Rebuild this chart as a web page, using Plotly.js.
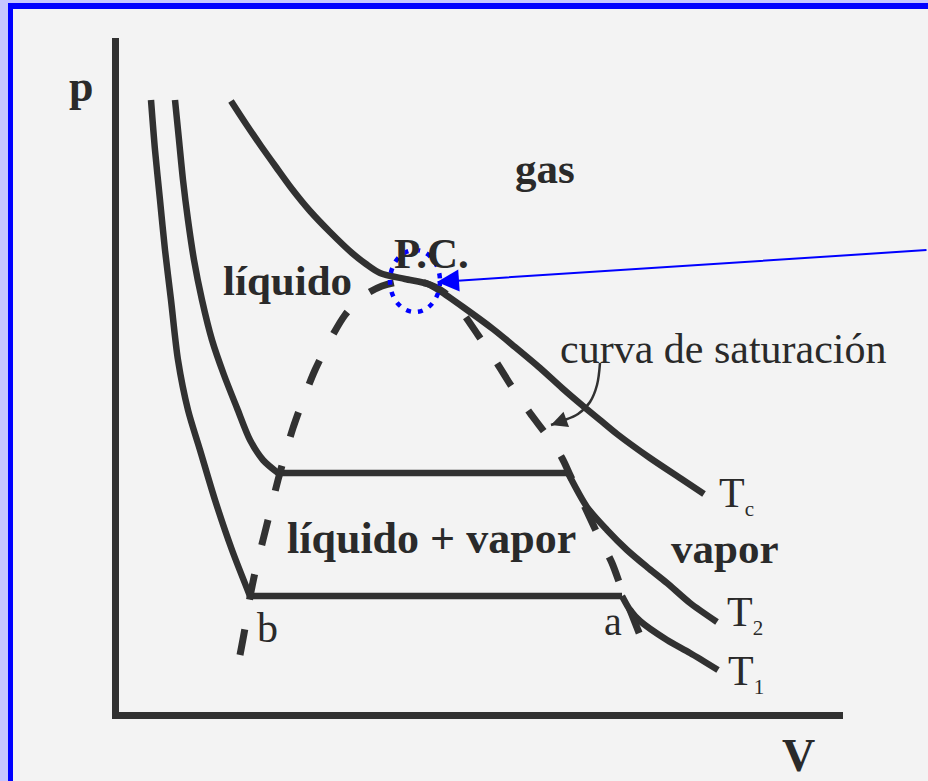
<!DOCTYPE html>
<html>
<head>
<meta charset="utf-8">
<script src="https://cdn.plot.ly/plotly-3.0.1.min.js"></script>
<style>
  html, body { margin: 0; padding: 0; background: #f3f3f3; }
  #chart { position: absolute; left: 0; top: 0; width: 928px; height: 781px; }
  .band-outer { position: absolute; left: 0; top: 0; width: 928px; height: 781px;
    box-sizing: border-box; border-left: 8px solid #c6c6ff; border-top: 3px solid #c6c6ff;
    pointer-events: none; }
  .band-inner { position: absolute; left: 8px; top: 3px; width: 920px; height: 778px;
    box-sizing: border-box; border-left: 5px solid #0000ff; border-top: 6px solid #0000ff;
    pointer-events: none; }
</style>
</head>
<body>
<div id="chart"></div>
<div class="band-outer"></div>
<div class="band-inner"></div>
<script>
// Isotherm T1: liquid branch, plateau pressure b-a, vapour branch
const T1_LIQ_V = [3.6, 4.0, 4.5, 5.0, 5.6, 6.3, 7.3, 8.5, 10.0, 11.7, 13.5];
const T1_LIQ_P = [61.6, 56.6, 51.6, 46.6, 41.6, 35.6, 30.6, 26.6, 21.6, 16.6, 12.0];
const T1_PLATEAU = 12.0;
const T1_VAP_V = [50.7, 51.5, 52.5, 55.2, 57.5, 60.3];
const T1_VAP_P = [12.0, 10.6, 9.5, 7.6, 6.3, 4.6];

// Isotherm T2
const T2_LIQ_V = [6.0, 6.4, 6.8, 7.3, 7.9, 8.7, 9.7, 10.9, 12.2, 13.5, 14.8, 16.3];
const T2_LIQ_P = [61.6, 57.6, 53.6, 49.6, 45.6, 41.6, 37.6, 34.1, 30.8, 27.6, 25.6, 24.3];
const T2_PLATEAU = 24.3;
const T2_VAP_V = [45.3, 47.2, 49.2, 51.2, 53.2, 55.2, 57.5, 60.2];
const T2_VAP_P = [24.3, 20.9, 18.6, 16.6, 14.9, 13.3, 11.3, 9.4];

// Critical isotherm Tc (inflection at the critical point)
const TC_V = [11.6, 13.1, 14.6, 16.1, 17.7, 19.5, 21.5, 23.7, 25.1, 26.5, 29.0, 31.3, 32.5, 34.8,
              37.8, 40.0, 42.5, 44.7, 46.8, 48.5, 50.2, 53.5, 56.8, 58.9];
const TC_P = [61.5, 59.2, 57.0, 54.9, 52.7, 50.5, 48.4, 46.3, 45.2, 44.3, 43.7, 43.2, 42.5, 40.9,
              38.7, 36.9, 34.8, 32.8, 31.0, 29.6, 28.2, 25.8, 23.6, 22.2];

// Saturation dome (dashed), from the liquid side over P.C. down the vapour side
const SAT_V = [12.5, 13.0, 13.5, 14.1, 14.8, 15.5, 16.3, 17.0, 17.8, 18.8, 20.0, 21.5, 23.0, 24.7, 26.7, 29.0, 31.0,
               33.0, 34.7, 36.3, 38.0, 39.7, 41.5, 43.3, 44.7, 45.5, 46.8, 48.3, 49.7, 50.7, 51.7, 52.7, 53.5];
const SAT_P = [6.1, 8.8, 11.9, 14.8, 17.6, 20.4, 23.6, 26.1, 28.8, 31.6, 34.6, 37.6, 40.1, 41.9, 43.0, 43.5, 43.3,
               42.3, 40.4, 38.1, 35.6, 32.9, 30.3, 27.9, 25.8, 24.1, 21.3, 18.1, 15.3, 12.6, 10.1, 7.6, 5.9];

// Hand-drawn pointer from the "curva de saturación" label to the dome
const POINTER_V = [48.5, 48.2, 47.5, 46.3, 44.7, 43.6];
const POINTER_P = [35.3, 33.1, 31.4, 30.2, 29.5, 29.1];

// Critical point marker (ellipse bounds) and its callout arrow
const PC_BOX = { v0: 27.5, v1: 32.5, p0: 40.4, p1: 46.6 };
const PC_TIP = { v: 32.2, p: 43.4 };
const PC_TAIL = { v: 81.3, p: 46.6 };

const SUB = s => 'T<sub><span style="font-size:21px">' + s + '</span></sub>';

// Text labels placed in (V, p) units
const LABELS = [
  { text: 'gas', v: 43.0, p: 54.8, size: 43, bold: true, anchor: 'center' },
  { text: 'P.C.', v: 31.6, p: 46.3, size: 43, bold: true, anchor: 'center' },
  { text: 'líquido', v: 17.2, p: 43.6, size: 43, bold: true, anchor: 'center' },
  { text: 'curva de saturación', v: 60.8, p: 36.7, size: 42, bold: false, anchor: 'center' },
  { text: 'líquido + vapor', v: 31.6, p: 17.8, size: 44, bold: true, anchor: 'center' },
  { text: 'vapor', v: 61.0, p: 16.8, size: 43, bold: true, anchor: 'center' },
  { text: SUB('c'), v: 60.2, p: 22.1, size: 42, bold: false, anchor: 'left' },
  { text: SUB('2'), v: 61.0, p: 10.2, size: 42, bold: false, anchor: 'left' },
  { text: SUB('1'), v: 61.1, p: 4.3, size: 42, bold: false, anchor: 'left' },
  { text: 'b', v: 15.2, p: 8.8, size: 42, bold: false, anchor: 'center' },
  { text: 'a', v: 49.8, p: 9.5, size: 40, bold: false, anchor: 'center' }
];

// Axis names, in plot-area fractions (they sit outside the axes box)
const AXIS_NAMES = [
  { text: 'p', x: -0.0530, y: 0.9273, size: 44 },
  { text: 'V', x: 0.9390, y: -0.0638, size: 46 }
];

const INK = '#313131';
const SERIF = 'Liberation Serif, Times New Roman, serif';

function curve(v, p, extra) {
  return Object.assign({
    x: v, y: p, type: 'scatter', mode: 'lines',
    line: { color: INK, width: 6.5, shape: 'spline', smoothing: 0.8 },
    hoverinfo: 'skip', showlegend: false
  }, extra || {});
}
function plateau(liqV, vapV, p) {
  return curve([liqV[liqV.length - 1], vapV[0]], [p, p], { line: { color: INK, width: 6.5 } });
}

const traces = [
  curve(T1_LIQ_V, T1_LIQ_P), plateau(T1_LIQ_V, T1_VAP_V, T1_PLATEAU), curve(T1_VAP_V, T1_VAP_P),
  curve(T2_LIQ_V, T2_LIQ_P), plateau(T2_LIQ_V, T2_VAP_V, T2_PLATEAU), curve(T2_VAP_V, T2_VAP_P),
  curve(TC_V, TC_P),
  curve(SAT_V, SAT_P, { line: { color: INK, width: 7, dash: '26px,30px', shape: 'spline', smoothing: 0.8 } }),
  curve(POINTER_V, POINTER_P, { line: { color: INK, width: 2.5, shape: 'spline' } })
];

const annotations = LABELS.map(l => ({
  x: l.v, y: l.p, xref: 'x', yref: 'y',
  text: l.bold ? '<b>' + l.text + '</b>' : l.text,
  showarrow: false, xanchor: l.anchor, yanchor: 'middle',
  font: { family: SERIF, size: l.size, color: '#2a2a2a' }
})).concat(AXIS_NAMES.map(a => ({
  x: a.x, y: a.y, xref: 'paper', yref: 'paper',
  text: '<b>' + a.text + '</b>', showarrow: false, xanchor: 'center', yanchor: 'middle',
  font: { family: SERIF, size: a.size, color: '#2a2a2a' }
})));

// arrowhead closing the saturation pointer
annotations.push({
  x: POINTER_V[POINTER_V.length - 1], y: POINTER_P[POINTER_P.length - 1],
  ax: POINTER_V[POINTER_V.length - 2], ay: POINTER_P[POINTER_P.length - 2],
  xref: 'x', yref: 'y', axref: 'x', ayref: 'y',
  text: '', showarrow: true, arrowhead: 2, arrowsize: 1.3, arrowwidth: 2.5, arrowcolor: INK, standoff: 0
});

// blue callout pointing at the critical point
annotations.push({
  x: PC_TIP.v, y: PC_TIP.p, ax: PC_TAIL.v, ay: PC_TAIL.p,
  xref: 'x', yref: 'y', axref: 'x', ayref: 'y',
  text: '', showarrow: true, arrowhead: 2, arrowsize: 2.2, arrowwidth: 2, arrowcolor: '#0000ff', standoff: 0
});

const axisStyle = {
  showgrid: false, zeroline: false, showticklabels: false, ticks: '',
  showline: true, linecolor: INK, linewidth: 7, fixedrange: true
};

const layout = {
  width: 928, height: 781,
  margin: { l: 119, r: 85, t: 38, b: 69 },
  paper_bgcolor: '#f3f3f3', plot_bgcolor: '#f3f3f3',
  xaxis: Object.assign({ range: [0.4, 72.8] }, axisStyle),
  yaxis: Object.assign({ range: [0.4, 67.8] }, axisStyle),
  shapes: [{
    type: 'circle', xref: 'x', yref: 'y',
    x0: PC_BOX.v0, x1: PC_BOX.v1, y0: PC_BOX.p0, y1: PC_BOX.p1,
    line: { color: '#0000ff', width: 4.5, dash: '5px,7px' }
  }],
  annotations: annotations,
  showlegend: false
};

Plotly.newPlot('chart', traces, layout, { displayModeBar: false, staticPlot: true });
</script>
</body>
</html>
